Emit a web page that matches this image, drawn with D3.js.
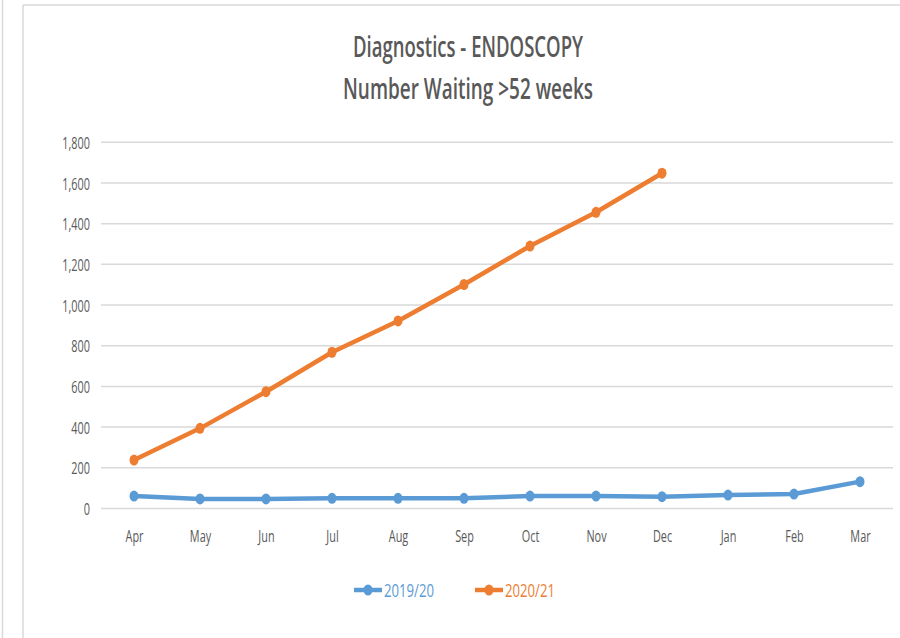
<!DOCTYPE html>
<html><head><meta charset="utf-8">
<script src="https://cdn.jsdelivr.net/npm/d3@7"></script>
<style>
body{margin:0;background:#fff;}
svg{display:block;}
text{font-family:"Open Sans",sans-serif;}
</style></head>
<body>
<svg id="chart" width="900" height="638"></svg>
<script>
const months = ["Apr","May","Jun","Jul","Aug","Sep","Oct","Nov","Dec","Jan","Feb","Mar"];
const series2019 = [61,47,47,50,50,50,61,61,58,66,71,132];
const series2020 = [238,394,574,768,922,1101,1290,1456,1648];
const yTicks = [0,200,400,600,800,1000,1200,1400,1600,1800];
const seriesNames = ["2019/20","2020/21"];
const colors = ["#5B9BD5","#ED7D31"];
const titleLines = ["Diagnostics - ENDOSCOPY","Number Waiting >52 weeks"];

function condense(sel, f){
  sel.each(function(){
    const w = this.getComputedTextLength();
    d3.select(this).attr("textLength", w*f).attr("lengthAdjust","spacingAndGlyphs");
  });
}

const svg = d3.select("#chart");
// frame lines
svg.append("line").attr("x1",2.5).attr("x2",2.5).attr("y1",0).attr("y2",638).attr("stroke","#d9d9d9").attr("stroke-width",1.5);
svg.append("line").attr("x1",23).attr("x2",23).attr("y1",5).attr("y2",638).attr("stroke","#d9d9d9").attr("stroke-width",1.5);
svg.append("line").attr("x1",23).attr("x2",900).attr("y1",5).attr("y2",5).attr("stroke","#d9d9d9").attr("stroke-width",1.5);

const x = d3.scalePoint().domain(months).range([101,893]).padding(0.5);
const y = d3.scaleLinear().domain([0,1800]).range([508.5,142.3]);

// gridlines
svg.append("g").selectAll("line").data(yTicks).join("line")
  .attr("x1",101).attr("x2",893)
  .attr("y1",d=>y(d)).attr("y2",d=>y(d))
  .attr("stroke","#d9d9d9").attr("stroke-width",1.5);

// y axis labels
const yAxis = d3.axisLeft(y).tickValues(yTicks).tickFormat(d3.format(",")).tickSize(0).tickPadding(0);
const yg = svg.append("g").attr("transform","translate(90,0)").call(yAxis);
yg.select(".domain").remove();
yg.selectAll("text").attr("fill","#595959").style("font-size","17px").attr("dy","0.36em");
condense(yg.selectAll("text"),0.64);

// x axis labels
const xAxis = d3.axisBottom(x).tickSize(0).tickPadding(0);
const xg = svg.append("g").attr("transform","translate(0,542)").call(xAxis);
xg.select(".domain").remove();
xg.selectAll("text").attr("fill","#595959").style("font-size","17px").attr("dy","0");
condense(xg.selectAll("text"),0.64);

// title
const titleW = [230,250];
svg.append("g").selectAll("text").data(titleLines).join("text")
  .attr("x",468).attr("y",(d,i)=>[57,98.5][i])
  .attr("text-anchor","middle").attr("fill","#595959")
  .style("font-size","29px").style("font-weight","600")
  .attr("textLength",(d,i)=>titleW[i]).attr("lengthAdjust","spacingAndGlyphs")
  .text(d=>d);

const line = d3.line().x((d,i)=>x(months[i])).y(d=>y(d));
[series2019, series2020].forEach((s,k)=>{
  svg.append("path").datum(s).attr("d",line).attr("fill","none")
    .attr("stroke",colors[k]).attr("stroke-width",4.5).attr("stroke-linejoin","round");
  svg.append("g").selectAll("ellipse").data(s).join("ellipse")
    .attr("cx",(d,i)=>x(months[i])).attr("cy",d=>y(d))
    .attr("rx",4.5).attr("ry",5.5).attr("fill",colors[k]);
});

// legend
const lg = svg.append("g");
const legX = [354,475];
seriesNames.forEach((n,k)=>{
  lg.append("line").attr("x1",legX[k]).attr("x2",legX[k]+28).attr("y1",590).attr("y2",590)
    .attr("stroke",colors[k]).attr("stroke-width",4.5);
  lg.append("ellipse").attr("cx",legX[k]+14).attr("cy",590).attr("rx",4.5).attr("ry",5.5).attr("fill",colors[k]);
  lg.append("text").attr("x",legX[k]+30).attr("y",596.5)
    .attr("fill",colors[k]).style("font-size","18px")
    .attr("textLength",50).attr("lengthAdjust","spacingAndGlyphs").text(n);
});
</script>
</body></html>
